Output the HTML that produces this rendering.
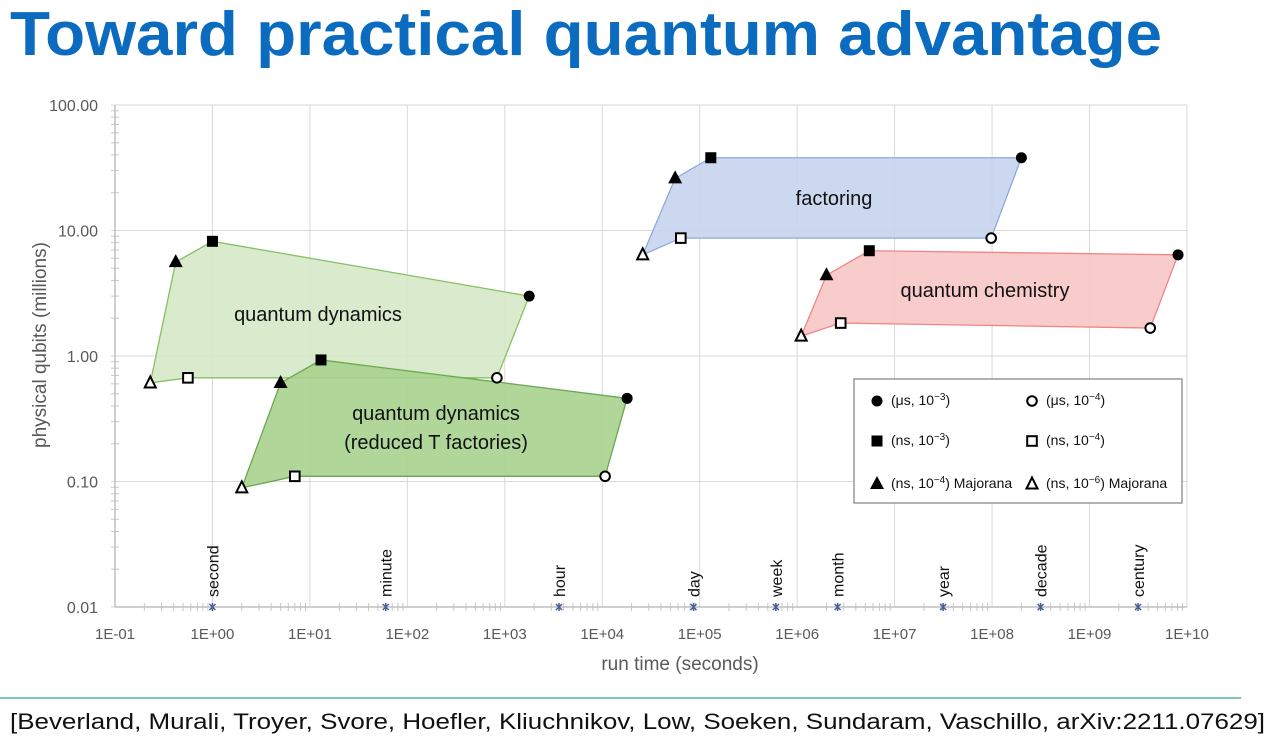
<!DOCTYPE html>
<html><head><meta charset="utf-8">
<style>
body{margin:0;background:#fff;width:1271px;height:746px;overflow:hidden;font-family:"Liberation Sans",sans-serif}
svg{display:block}
</style></head><body>
<svg id="svg" width="1271" height="746" viewBox="0 0 1271 746" xmlns="http://www.w3.org/2000/svg">
<text x="10" y="55" font-size="62" font-weight="bold" fill="#0b6cbf" textLength="1152" lengthAdjust="spacingAndGlyphs">Toward practical quantum advantage</text>
<line x1="0" y1="698" x2="1241" y2="698" stroke="#7fc6b0" stroke-width="2"/>
<text x="10" y="729" font-size="22" fill="#111" textLength="1255" lengthAdjust="spacingAndGlyphs">[Beverland, Murali, Troyer, Svore, Hoefler, Kliuchnikov, Low, Soeken, Sundaram, Vaschillo, arXiv:2211.07629]</text>
<g id="plot"></g>
</svg>
<script>
const xTicks=[-1,0,1,2,3,4,5,6,7,8,9,10];
const xTickLabels=["1E-01","1E+00","1E+01","1E+02","1E+03","1E+04","1E+05","1E+06","1E+07","1E+08","1E+09","1E+10"];
const yTicks=[-2,-1,0,1,2];
const yTickLabels=["0.01","0.10","1.00","10.00","100.00"];
const regionNames=["quantum-dynamics","quantum-dynamics-reduced","factoring","quantum-chemistry"];
const dynX=[0.23,0.42,1.0,1780,830,0.56];
const dynY=[0.61,5.6,8.2,3.0,0.67,0.67];
const redX=[2.0,5.0,13,18000,10700,7.0];
const redY=[0.089,0.61,0.93,0.46,0.11,0.11];
const facX=[26000,56000,130000,2.0e8,9.8e7,64000];
const facY=[6.4,26,38,38,8.7,8.7];
const chemX=[1.1e6,2.0e6,5.5e6,8.1e9,4.2e9,2.8e6];
const chemY=[1.44,4.4,6.9,6.4,1.67,1.83];
const markerKinds=["open-tri","tri","sq","circle","open-circle","open-sq"];
const timeNames=["second","minute","hour","day","week","month","year","decade","century"];
const timeValues=[1,60,3600,86400,604800,2.6e6,3.15e7,3.15e8,3.15e9];

const X0=115,XD=97.45,Y0=356,YD=125.5;
const xs=v=>X0+(Math.log10(v)+1)*XD;
const ys=v=>Y0-Math.log10(v)*YD;
const NS="http://www.w3.org/2000/svg";
const plot=document.getElementById('plot');
function mk(tag,attrs,parent){const e=document.createElementNS(NS,tag);for(const k in attrs)e.setAttribute(k,attrs[k]);(parent||plot).appendChild(e);return e;}

xTicks.forEach((t,i)=>{
  const x=xs(Math.pow(10,t));
  const g=mk('line',{x1:x,y1:ys(100),x2:x,y2:ys(0.01),stroke:'#d9d9d9','stroke-width':1});
  
  
  const l=mk('text',{x:x,y:639,'font-size':15,fill:'#595959','text-anchor':'middle'});
  l.textContent=xTickLabels[i];
  
  
  if(t<10){for(let m=2;m<10;m++){const xm=xs(m*Math.pow(10,t));
    const tk=mk('line',{x1:xm,y1:603,x2:xm,y2:611,stroke:'#c8c8c8'});
    
    }}
});
yTicks.forEach((t,i)=>{
  const y=ys(Math.pow(10,t));
  const g=mk('line',{x1:xs(0.1)-4,y1:y,x2:xs(1e10),y2:y,stroke:'#d9d9d9','stroke-width':1});
  
  
  const l=mk('text',{x:98,y:y+6,'font-size':16,fill:'#595959','text-anchor':'end'});
  l.textContent=yTickLabels[i];
  
  
  if(t<2){for(let m=2;m<10;m++){const ym=ys(m*Math.pow(10,t));
    const tk=mk('line',{x1:111,y1:ym,x2:119,y2:ym,stroke:'#c8c8c8'});
    
    }}
});
const ax=mk('line',{x1:115,y1:ys(0.01),x2:xs(1e10),y2:ys(0.01),stroke:'#bfbfbf','stroke-width':1.5});


const ay=mk('line',{x1:115,y1:ys(100),x2:115,y2:ys(0.01),stroke:'#bfbfbf','stroke-width':1.5});



const regs=[[dynX,dynY,'#d5e8c8','#86c064'],[redX,redY,'#a9d18e','#6aa84f'],[facX,facY,'#c6d4ee','#8eaadb'],[chemX,chemY,'#f8c6c6','#ef8585']];
regs.forEach((r,ri)=>{
  const pts=r[0].map((v,i)=>xs(v)+','+ys(r[1][i])).join(' ');
  const p=mk('polygon',{points:pts,fill:r[2],stroke:r[3],'stroke-width':1.3,'fill-opacity':0.9});
  
  
});
function marker(kind,x,y,parent){
  let e;
  if(kind==='circle')e=mk('circle',{cx:x,cy:y,r:5.5,fill:'#000'},parent);
  else if(kind==='open-circle')e=mk('circle',{cx:x,cy:y,r:4.8,fill:'#fff',stroke:'#000','stroke-width':2},parent);
  else if(kind==='sq')e=mk('rect',{x:x-5.5,y:y-5.5,width:11,height:11,fill:'#000'},parent);
  else if(kind==='open-sq')e=mk('rect',{x:x-4.8,y:y-4.8,width:9.6,height:9.6,fill:'#fff',stroke:'#000','stroke-width':2},parent);
  else if(kind==='tri')e=mk('polygon',{points:(x)+','+(y-8)+' '+(x-7)+','+(y+5)+' '+(x+7)+','+(y+5),fill:'#000'},parent);
  else e=mk('polygon',{points:(x)+','+(y-6.5)+' '+(x-5.5)+','+(y+4.5)+' '+(x+5.5)+','+(y+4.5),fill:'#fff',stroke:'#000','stroke-width':2},parent);
  return e;
}
regs.forEach((r,ri)=>{
  r[0].forEach((v,i)=>{
    const m=marker(markerKinds[i],xs(v),ys(r[1][i]));
    
    
  });
});
const labels=[["factoring",834,205],["quantum chemistry",985,297],["quantum dynamics",318,321],["quantum dynamics",436,420],["(reduced T factories)",436,449]];
labels.forEach(l=>{
  const t=mk('text',{x:l[1],y:l[2],'font-size':20,fill:'#111','text-anchor':'middle'});
  t.textContent=l[0];
  
  
});
timeValues.forEach((v,i)=>{
  const x=xs(v),y=ys(0.01);
  const m=mk('path',{d:'M'+(x-3)+' '+(y-3)+'L'+(x+3)+' '+(y+3)+'M'+(x+3)+' '+(y-3)+'L'+(x-3)+' '+(y+3)+'M'+x+' '+(y-4)+'L'+x+' '+(y+4),stroke:'#44609c','stroke-width':1.5,fill:'none'});
  
  
  const t=mk('text',{x:0,y:0,'font-size':16,fill:'#111',transform:'translate('+(x+6)+','+(y-10)+') rotate(-90)'});
  t.textContent=timeNames[i];
  
  
});
const xt=mk('text',{x:680,y:670,'font-size':19,fill:'#595959','text-anchor':'middle'});
xt.textContent='run time (seconds)';


const yt=mk('text',{x:0,y:0,'font-size':19,fill:'#595959','text-anchor':'middle',transform:'translate(46,345) rotate(-90)'});
yt.textContent='physical qubits (millions)';


const lg=mk('g',{});


mk('rect',{x:854,y:379,width:328,height:124,fill:'#fff',stroke:'#808080','stroke-width':1.2},lg);
const legItems=[["circle",877,401,"(μs, 10","−3",")"],["open-circle",1032,401,"(μs, 10","−4",")"],
["sq",877,441,"(ns, 10","−3",")"],["open-sq",1032,441,"(ns, 10","−4",")"],
["tri",877,484,"(ns, 10","−4",") Majorana"],["open-tri",1032,484,"(ns, 10","−6",") Majorana"]];
legItems.forEach(it=>{
  const e=marker(it[0],it[1],it[2],lg);
  
  
  const t=mk('text',{x:it[1]+14,y:it[2]+4,'font-size':14,fill:'#111'},lg);
  t.innerHTML=it[3]+'<tspan font-size="10" dy="-5">'+it[4]+'</tspan><tspan dy="5">'+it[5]+'</tspan>';
  
  
});
</script>
</body></html>
